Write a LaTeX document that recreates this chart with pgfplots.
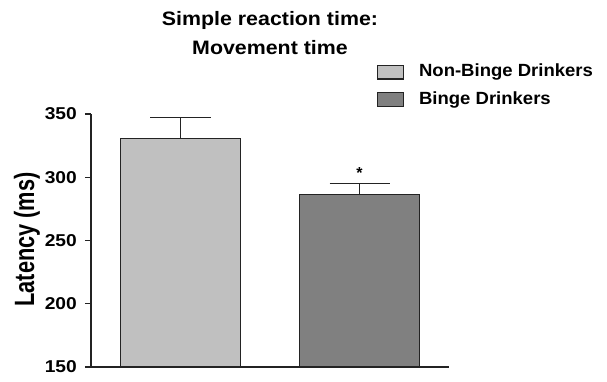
\documentclass[border=0pt]{standalone}
\usepackage{fontspec}
\setmainfont{Liberation Sans}
\newfontfamily\fwide[FakeStretch=1.12]{Liberation Sans}
\newfontfamily\ftitle[FakeStretch=1.1]{Liberation Sans}
\newfontfamily\fleg[FakeStretch=1.05]{Liberation Sans}
\newfontfamily\flab[FakeStretch=0.78]{Liberation Sans}
\usepackage{pgfplots}
\pgfplotsset{compat=1.18}
\definecolor{lightbar}{RGB}{192,192,192}
\definecolor{darkbar}{RGB}{128,128,128}
\definecolor{edge}{RGB}{35,35,35}
\begin{document}
\begin{tikzpicture}
\begin{axis}[
  scale only axis, width=358bp, height=253bp,
  xmin=0, xmax=1, ymin=150, ymax=350,
  axis x line=bottom, axis y line=left,
  axis line style={-, line width=1.2bp, edge},
  xtick=\empty,
  ytick={150,200,250,300,350},
  ytick pos=left,
  every tick/.style={line width=1.3bp, edge},
  ytick align=outside, major tick length=6bp,
  /pgf/number format/assume math mode=true,
  yticklabel style={font=\fwide\bfseries\fontsize{17.2}{17.2}\selectfont, inner sep=0pt, xshift=-8bp},
  ylabel={Latency (ms)},
  every axis y label/.style={at={(rel axis cs:0,0.5)}, anchor=center, xshift=-64bp, yshift=1bp, rotate=90,
    font=\flab\bfseries\fontsize{28}{28}\selectfont, inner sep=0pt},
  title={Simple reaction time:\\Movement time},
  every axis title/.style={at={(rel axis cs:0.5,1)}, anchor=south, yshift=59.5bp,
    font=\ftitle\bfseries\fontsize{19.5}{28.5}\selectfont, align=center, inner sep=0pt},
  legend style={at={(rel axis cs:0.798,1.2)}, anchor=north west, draw=none, fill=none, inner sep=0pt,
    font=\fleg\bfseries\fontsize{17.7}{17.7}\selectfont, nodes={inner sep=0pt, text height=13bp, text depth=4bp},
    column sep=15bp, row sep=10.5bp},
  legend cell align=left,
  legend image code/.code={\draw[#1] (0bp,-6.8bp) rectangle (26bp,6.8bp);},
  clip=true,
]
\coordinate (o) at (rel axis cs:0,0);
\addplot[ybar, bar width=119.5bp, bar shift=0pt, fill=lightbar, draw=edge, line width=1.2bp,
  error bars/.cd, y dir=plus, y explicit,
  error bar style={line width=1bp, edge},
  error mark options={rotate=90, edge, line width=1bp, mark size=30bp}]
  coordinates {(0.25,330.8) +- (0,16.6)};
\addlegendentry{Non-Binge Drinkers}
\addplot[ybar, bar width=119.5bp, bar shift=0pt, fill=darkbar, draw=edge, line width=1.2bp,
  error bars/.cd, y dir=plus, y explicit,
  error bar style={line width=1bp, edge},
  error mark options={rotate=90, edge, line width=1bp, mark size=30bp}]
  coordinates {(0.75,286.5) +- (0,8.2)};
\addlegendentry{Binge Drinkers}
\node[font=\bfseries\fontsize{16}{16}\selectfont, anchor=base, inner sep=0pt] at (axis cs:0.75,299.2) {*};
\end{axis}
\pgfresetboundingbox
\path[use as bounding box] ([shift={(-91bp,-15bp)}]o) rectangle ([shift={(516bp,367bp)}]o);
\end{tikzpicture}
\end{document}
